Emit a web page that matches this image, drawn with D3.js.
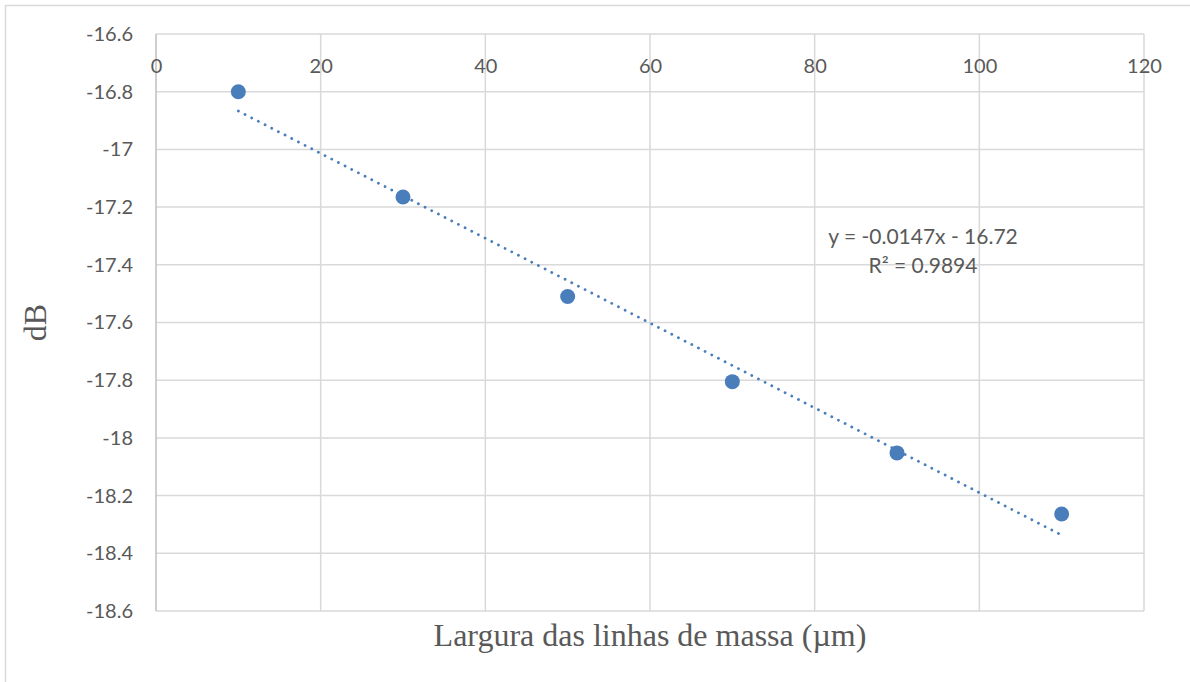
<!DOCTYPE html>
<html>
<head>
<meta charset="utf-8">
<script src="https://cdn.jsdelivr.net/npm/d3@7"></script>
<style>
  html, body { margin: 0; padding: 0; background: #fff; }
  svg { display: block; }
</style>
</head>
<body>
<svg id="chart" width="1190" height="682"></svg>
<script>
// Measured widths of ground lines (µm) and corresponding level (dB)
const widths = [10, 30, 50, 70, 90, 110];
const levels = [-16.80, -17.165, -17.51, -17.805, -18.052, -18.264];
const xTicks = [0, 20, 40, 60, 80, 100, 120];
const yTicks = [-16.6, -16.8, -17, -17.2, -17.4, -17.6, -17.8, -18, -18.2, -18.4, -18.6];
const trendSlope = -0.0147;
const trendIntercept = -16.72;
const equationLines = ["y = -0.0147x - 16.72", "R² = 0.9894"];

const svg = d3.select("#chart");
const m = { left: 156, top: 34, right: 1144, bottom: 611 };
const labelFont = "Lato, 'Open Sans', sans-serif";
const titleFont = "'Liberation Serif', 'Times New Roman', serif";
// plain hyphen for negative numbers
const fmt = d => String(+(+d).toFixed(2));

// Outer chart frame
svg.append("rect")
  .attr("x", 5.5).attr("y", 5.5)
  .attr("width", 1200).attr("height", 700)
  .attr("fill", "#fff").attr("stroke", "#d9d9d9").attr("stroke-width", 1.5);

const x = d3.scaleLinear().domain([0, 120]).range([m.left, m.right]);
const y = d3.scaleLinear().domain([-16.6, -18.6]).range([m.top, m.bottom]);

const grid = svg.append("g");
grid.selectAll("line.h").data(yTicks).join("line")
  .attr("x1", m.left).attr("x2", m.right)
  .attr("y1", d => y(d)).attr("y2", d => y(d))
  .attr("stroke", "#d9d9d9").attr("stroke-width", 1.5);
grid.selectAll("line.v").data(xTicks.slice(1)).join("line")
  .attr("y1", m.top).attr("y2", m.bottom)
  .attr("x1", d => x(d)).attr("x2", d => x(d))
  .attr("stroke", "#d9d9d9").attr("stroke-width", 1.5);
svg.append("line")
  .attr("x1", x(0)).attr("x2", x(0))
  .attr("y1", m.top).attr("y2", m.bottom)
  .attr("stroke", "#bfbfbf").attr("stroke-width", 1.5);

// X tick labels (axis crosses at the top)
const xAxis = d3.axisTop(x).tickValues(xTicks).tickSize(0).tickPadding(0).tickFormat(fmt);
const gx = svg.append("g").attr("transform", `translate(0, ${y(-16.6) + 39})`).call(xAxis);
gx.select(".domain").remove();
gx.selectAll("text")
  .attr("font-family", labelFont).attr("font-size", 20).attr("fill", "#595959");

// Y tick labels
const yAxis = d3.axisLeft(y).tickValues(yTicks).tickSize(0).tickPadding(23).tickFormat(fmt);
const gy = svg.append("g").attr("transform", `translate(${m.left}, 0)`).call(yAxis);
gy.select(".domain").remove();
gy.selectAll("text")
  .attr("font-family", labelFont).attr("font-size", 20).attr("fill", "#595959");

// Linear trendline (dotted)
const trend = [widths[0], widths[widths.length - 1]].map(v => [v, trendSlope * v + trendIntercept]);
svg.append("path")
  .attr("d", d3.line().x(d => x(d[0])).y(d => y(d[1]))(trend))
  .attr("fill", "none").attr("stroke", "#4a7ebb")
  .attr("stroke-width", 2.8).attr("stroke-linecap", "round")
  .attr("stroke-dasharray", "0.1 7.4");

// Data points
svg.append("g").selectAll("circle")
  .data(widths.map((w, i) => [w, levels[i]]))
  .join("circle")
  .attr("cx", d => x(d[0])).attr("cy", d => y(d[1]))
  .attr("r", 7.5).attr("fill", "#4a7ebb");

// Trendline equation
svg.append("g").selectAll("text").data(equationLines).join("text")
  .attr("x", 923).attr("y", (d, i) => 244 + i * 29)
  .attr("text-anchor", "middle")
  .attr("font-family", labelFont).attr("font-size", 21).attr("fill", "#595959")
  .text(d => d);

// Axis titles
svg.append("text")
  .attr("x", (m.left + m.right) / 2).attr("y", 646)
  .attr("text-anchor", "middle")
  .attr("font-family", titleFont).attr("font-size", 32).attr("fill", "#595959")
  .text("Largura das linhas de massa (µm)");

svg.append("text")
  .attr("transform", `translate(46, ${(m.top + m.bottom) / 2}) rotate(-90)`)
  .attr("text-anchor", "middle")
  .attr("font-family", titleFont).attr("font-size", 32).attr("fill", "#595959")
  .text("dB");
</script>
</body>
</html>
